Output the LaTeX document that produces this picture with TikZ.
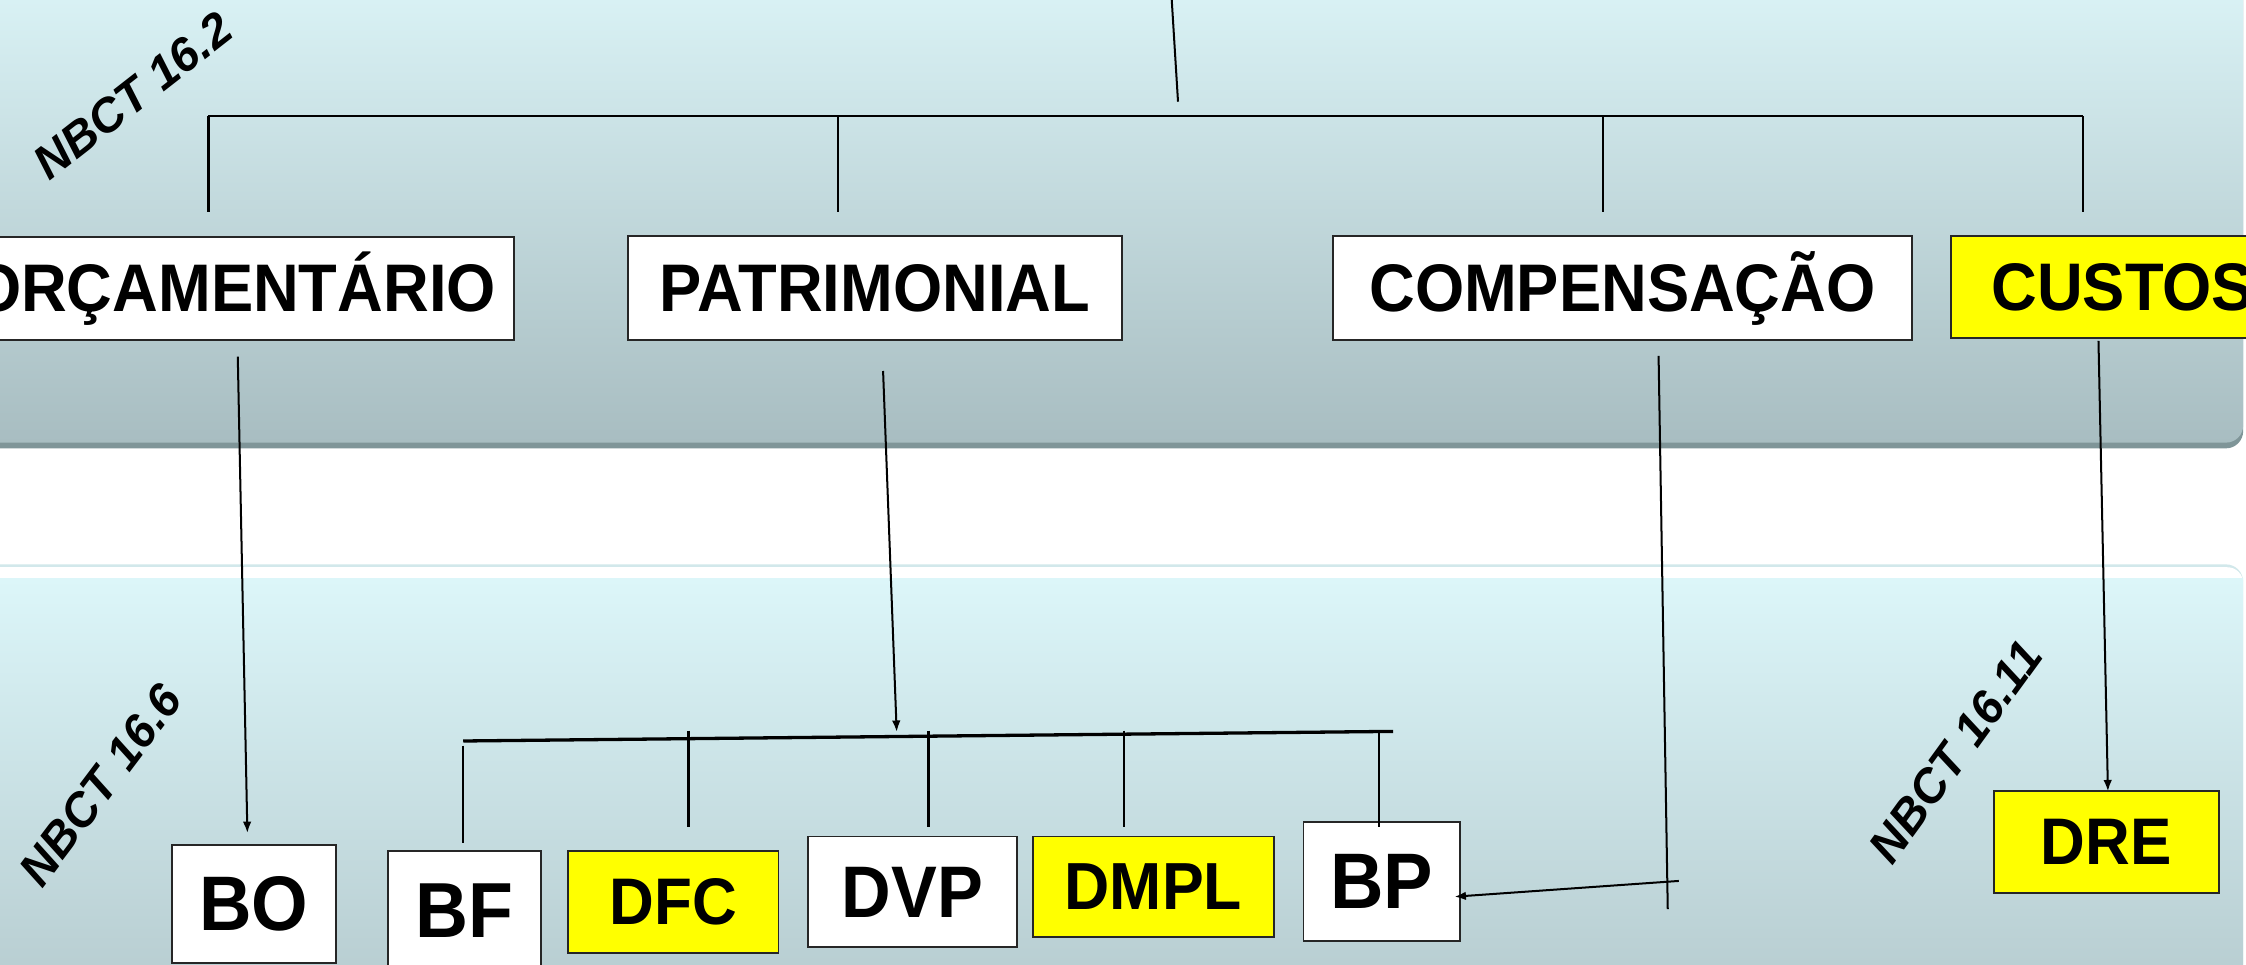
\documentclass[tikz,border=0pt]{standalone}
\usepackage{fontspec}
\setmainfont{Liberation Sans}
\newfontfamily\boxfont[FakeStretch=0.94]{Liberation Sans}
\usetikzlibrary{arrows.meta}
\definecolor{panTop}{HTML}{DDF6F9}
\definecolor{panBot}{HTML}{A8BDC1}
\definecolor{panEdge}{HTML}{7F9598}
\definecolor{panTwoTop}{HTML}{DCF6F9}
\definecolor{panTwoBot}{HTML}{B3C8CC}
\definecolor{panTwoEdge}{HTML}{D2E8EB}
\definecolor{boxYellow}{HTML}{FFFF00}
\newcommand\boxtxt[1]{\smash{#1}\vphantom{H}}
\begin{document}
\begin{tikzpicture}[x=1pt,y=-1pt,
  box/.style={draw=black!85, line width=1.3pt, fill=white, inner sep=0pt,
    font=\boxfont\bfseries\fontsize{#1}{#1}\selectfont},
  box/.default=47,
  ybox/.style={box=#1, fill=boxYellow},
  ybox/.default=47,
  wire/.style={line width=1.4pt, black},
  drop/.style={line width=1.7pt, black},
  bus/.style={line width=1.9pt, black},
  arr/.style={line width=1.4pt, black, -{Latex[length=8pt,width=6pt]}},
  norm/.style={font=\fontsize{33}{33}\selectfont\bfseries\itshape, inner sep=0pt}
]
\useasboundingbox (0,0) rectangle (1568,673);
% background panels
\fill[white] (0,0) rectangle (1568,673);
\fill[panEdge, rounded corners=12] (-30,-30) rectangle (1566,313);
\shade[top color=panTop, bottom color=panBot, rounded corners=12] (-30,-30) rectangle (1566,309);
\fill[panTwoEdge, rounded corners=12] (-30,394) rectangle (1566,720);
\fill[white, rounded corners=11] (-30,396) rectangle (1566,720);
\shade[top color=panTwoTop, bottom color=panTwoBot] (-30,404) rectangle (1566,720);

% NBCT labels
\node[norm, rotate=38] (n162) at (92.6,66.8) {NBCT 16.2};
\node[norm, rotate=53] (n166) at (70,548) {NBCT 16.6};
\node[norm, rotate=54] (n1611) at (1365,524.8) {NBCT 16.11};

% first row
\node[box, minimum width=390.7, minimum height=72.2] (orc) at (163.35,201.3) {\boxtxt{ORÇAMENTÁRIO}};
\node[box, minimum width=344.7, minimum height=72.4] (pat) at (610.85,201.2) {\boxtxt{PATRIMONIAL}};
\node[box, minimum width=404.2, minimum height=72.6] (comp) at (1132.7,201.1) {\boxtxt{COMPENSAÇÃO}};
\node[ybox, minimum width=240, minimum height=70.9] (cust) at (1482,200.25) {\boxtxt{CUSTOS}};

% second row
\node[box=54, minimum width=114.9, minimum height=82.5] (bo) at (177.25,631.25) {\boxtxt{BO}};
\node[box=54.5, minimum width=106.8, minimum height=83] (bf) at (324,635.5) {\boxtxt{BF}};
\node[ybox=46, minimum width=147, minimum height=71.5] (dfc) at (470,629.75) {\boxtxt{DFC}};
\node[box=51, minimum width=146, minimum height=77.4] (dvp) at (637,622.7) {\boxtxt{DVP}};
\node[ybox=46.5, minimum width=168, minimum height=70.4] (dmpl) at (805.2,619.2) {\boxtxt{DMPL}};
\node[box=55, minimum width=109.3, minimum height=83.1] (bp) at (964.65,615.15) {\boxtxt{BP}};
\node[ybox=46, minimum width=157.4, minimum height=71] (dre) at (1470.5,587.7) {\boxtxt{DRE}};

% coordinates
\coordinate (topS) at (817.9,-2);
\coordinate (topE) at (822.4,71);
\coordinate (busL) at (145.5,81);
\coordinate (busR) at (1454,81);
\coordinate (dOrc) at (145.5,147.8);
\coordinate (tPat) at (584.9,81);
\coordinate (dPat) at (584.9,147.8);
\coordinate (tComp) at (1119.2,81);
\coordinate (dComp) at (1119.2,147.8);
\coordinate (dCust) at (1454,147.8);
\coordinate (orcS) at (166,249);
\coordinate (boT) at (172.7,581.6);
\coordinate (patS) at (616.5,259);
\coordinate (patT) at (626,511);
\coordinate (custS) at (1465,238);
\coordinate (custT) at (1471.6,552.5);
\coordinate (compS) at (1157.9,248.5);
\coordinate (compE) at (1164.3,634.6);
\coordinate (bpS) at (1172,615);
\coordinate (bpT) at (1015.4,626);
\coordinate (busTwoL) at (323.4,517.3);
\coordinate (busTwoR) at (972.5,510.6);
\coordinate (tBf) at (323.4,520.6);
\coordinate (dBf) at (323.4,588.3);
\coordinate (tDfc) at (480.7,510);
\coordinate (dDfc) at (480.7,577.6);
\coordinate (tDvp) at (648.3,510);
\coordinate (dDvp) at (648.3,577.6);
\coordinate (tDmpl) at (784.5,510);
\coordinate (dDmpl) at (784.5,577.6);
\coordinate (tBp) at (962.7,510);
\coordinate (dBp) at (962.7,577.6);

% connectors, top
\draw[wire] (topS) -- (topE);
\draw[bus] (busL) -- (busR);
\draw[drop] (busL) -- (dOrc);
\draw[drop] (tPat) -- (dPat);
\draw[drop] (tComp) -- (dComp);
\draw[drop] (busR) -- (dCust);

% connectors, down
\draw[arr] (orcS) -- (boT);
\draw[arr] (patS) -- (patT);
\draw[arr] (custS) -- (custT);
\draw[wire] (compS) -- (compE);
\draw[arr] (bpS) -- (bpT);

% second bus
\draw[bus, line width=2.3pt] (busTwoL) -- (busTwoR);
\draw[drop] (tBf) -- (dBf);
\draw[drop] (tDfc) -- (dDfc);
\draw[drop] (tDvp) -- (dDvp);
\draw[drop] (tDmpl) -- (dDmpl);
\draw[drop] (tBp) -- (dBp);
\end{tikzpicture}
\end{document}
